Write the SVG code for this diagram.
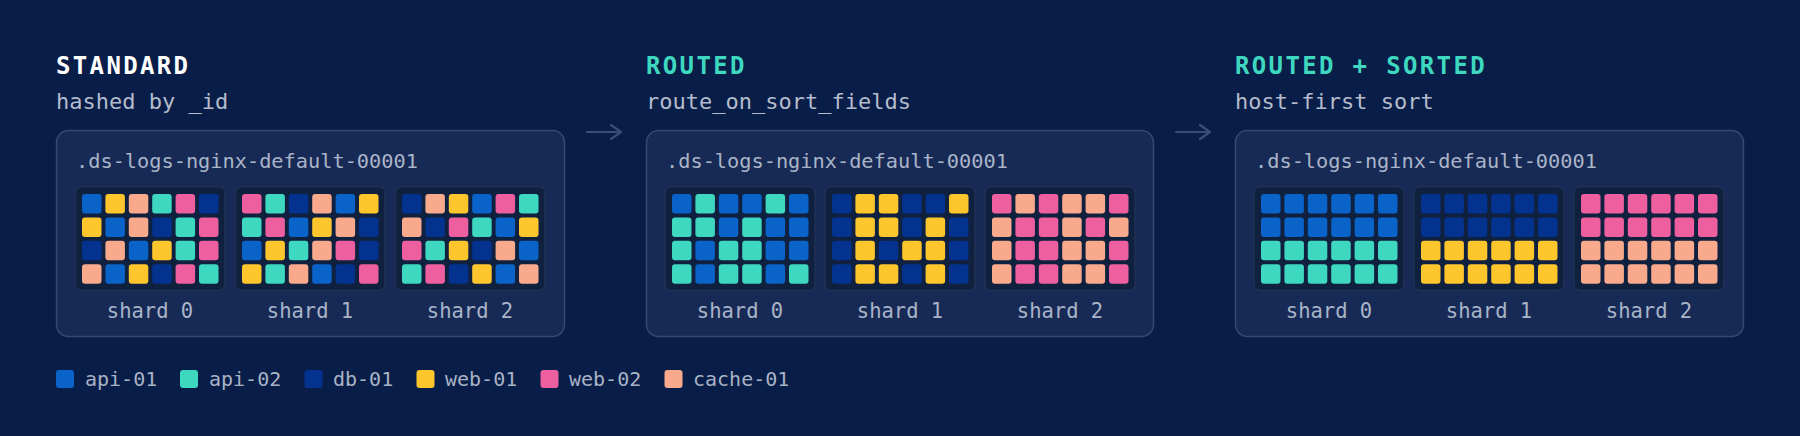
<svg xmlns="http://www.w3.org/2000/svg" width="1800" height="436" viewBox="0 0 1800 436">
<style>
.bg{fill:#081d48}
.panel{fill:#172a55;stroke:#37496f;stroke-width:1.5}
.box{fill:#10203f;stroke:#1f3156;stroke-width:1.5}
.t{font-family:"DejaVu Sans Mono","Liberation Mono",monospace}
.title{font-size:24px;font-weight:bold;letter-spacing:2.35px}
.white{fill:#ffffff}
.teal{fill:#3ed8c0}
.sub{font-size:22px;fill:#b4bccc}
.idx{font-size:20.3px;fill:#aab4c8}
.lbl{font-size:20.5px;fill:#aab4c8;text-anchor:middle}
.leg{font-size:20px;fill:#a9b3c6}
.B{fill:#0a63c9}.T{fill:#3ed8c0}.D{fill:#04338f}.Y{fill:#fec62d}.P{fill:#ee5fa0}.S{fill:#f9aa8c}
.arrow{fill:none;stroke:#3b4d74;stroke-width:2.2;stroke-linecap:round;stroke-linejoin:round}
</style>
<defs>
<marker id="ah" viewBox="0 0 12 16" refX="11" refY="8" markerWidth="12" markerHeight="16" markerUnits="userSpaceOnUse" orient="auto">
<path d="M1,1 L11,8 L1,15" fill="none" stroke="#3b4d74" stroke-width="2.2" stroke-linecap="round" stroke-linejoin="round"/>
</marker>
</defs>
<rect class="bg" x="0" y="0" width="1800" height="436"/>

<g id="connectors">
<line class="arrow" x1="587" y1="132" x2="621" y2="132" marker-end="url(#ah)"/>
<line class="arrow" x1="1176" y1="132" x2="1210" y2="132" marker-end="url(#ah)"/>
</g>

<g id="standard">
<text class="t title white" x="56" y="74">STANDARD</text>
<text class="t sub" x="56" y="109">hashed by _id</text>
<rect class="panel" x="56.5" y="130.5" width="508" height="206" rx="12"/>
<text class="t idx" x="76" y="168">.ds-logs-nginx-default-00001</text>
<g id="std-shard0" transform="translate(75,186.5)">
<rect class="box" x="0" y="0" width="150" height="104" rx="6"/>
<rect class="B" x="7" y="7.5" width="19.5" height="19.5" rx="3"/><rect class="Y" x="30.4" y="7.5" width="19.5" height="19.5" rx="3"/><rect class="S" x="53.8" y="7.5" width="19.5" height="19.5" rx="3"/><rect class="T" x="77.2" y="7.5" width="19.5" height="19.5" rx="3"/><rect class="P" x="100.6" y="7.5" width="19.5" height="19.5" rx="3"/><rect class="D" x="124" y="7.5" width="19.5" height="19.5" rx="3"/>
<rect class="Y" x="7" y="30.9" width="19.5" height="19.5" rx="3"/><rect class="B" x="30.4" y="30.9" width="19.5" height="19.5" rx="3"/><rect class="S" x="53.8" y="30.9" width="19.5" height="19.5" rx="3"/><rect class="D" x="77.2" y="30.9" width="19.5" height="19.5" rx="3"/><rect class="T" x="100.6" y="30.9" width="19.5" height="19.5" rx="3"/><rect class="P" x="124" y="30.9" width="19.5" height="19.5" rx="3"/>
<rect class="D" x="7" y="54.3" width="19.5" height="19.5" rx="3"/><rect class="S" x="30.4" y="54.3" width="19.5" height="19.5" rx="3"/><rect class="B" x="53.8" y="54.3" width="19.5" height="19.5" rx="3"/><rect class="Y" x="77.2" y="54.3" width="19.5" height="19.5" rx="3"/><rect class="T" x="100.6" y="54.3" width="19.5" height="19.5" rx="3"/><rect class="P" x="124" y="54.3" width="19.5" height="19.5" rx="3"/>
<rect class="S" x="7" y="77.7" width="19.5" height="19.5" rx="3"/><rect class="B" x="30.4" y="77.7" width="19.5" height="19.5" rx="3"/><rect class="Y" x="53.8" y="77.7" width="19.5" height="19.5" rx="3"/><rect class="D" x="77.2" y="77.7" width="19.5" height="19.5" rx="3"/><rect class="P" x="100.6" y="77.7" width="19.5" height="19.5" rx="3"/><rect class="T" x="124" y="77.7" width="19.5" height="19.5" rx="3"/>
<text class="t lbl" x="75" y="131.5">shard 0</text>
</g>
<g id="std-shard1" transform="translate(235,186.5)">
<rect class="box" x="0" y="0" width="150" height="104" rx="6"/>
<rect class="P" x="7" y="7.5" width="19.5" height="19.5" rx="3"/><rect class="T" x="30.4" y="7.5" width="19.5" height="19.5" rx="3"/><rect class="D" x="53.8" y="7.5" width="19.5" height="19.5" rx="3"/><rect class="S" x="77.2" y="7.5" width="19.5" height="19.5" rx="3"/><rect class="B" x="100.6" y="7.5" width="19.5" height="19.5" rx="3"/><rect class="Y" x="124" y="7.5" width="19.5" height="19.5" rx="3"/>
<rect class="T" x="7" y="30.9" width="19.5" height="19.5" rx="3"/><rect class="P" x="30.4" y="30.9" width="19.5" height="19.5" rx="3"/><rect class="B" x="53.8" y="30.9" width="19.5" height="19.5" rx="3"/><rect class="Y" x="77.2" y="30.9" width="19.5" height="19.5" rx="3"/><rect class="S" x="100.6" y="30.9" width="19.5" height="19.5" rx="3"/><rect class="D" x="124" y="30.9" width="19.5" height="19.5" rx="3"/>
<rect class="B" x="7" y="54.3" width="19.5" height="19.5" rx="3"/><rect class="Y" x="30.4" y="54.3" width="19.5" height="19.5" rx="3"/><rect class="T" x="53.8" y="54.3" width="19.5" height="19.5" rx="3"/><rect class="S" x="77.2" y="54.3" width="19.5" height="19.5" rx="3"/><rect class="P" x="100.6" y="54.3" width="19.5" height="19.5" rx="3"/><rect class="D" x="124" y="54.3" width="19.5" height="19.5" rx="3"/>
<rect class="Y" x="7" y="77.7" width="19.5" height="19.5" rx="3"/><rect class="T" x="30.4" y="77.7" width="19.5" height="19.5" rx="3"/><rect class="S" x="53.8" y="77.7" width="19.5" height="19.5" rx="3"/><rect class="B" x="77.2" y="77.7" width="19.5" height="19.5" rx="3"/><rect class="D" x="100.6" y="77.7" width="19.5" height="19.5" rx="3"/><rect class="P" x="124" y="77.7" width="19.5" height="19.5" rx="3"/>
<text class="t lbl" x="75" y="131.5">shard 1</text>
</g>
<g id="std-shard2" transform="translate(395,186.5)">
<rect class="box" x="0" y="0" width="150" height="104" rx="6"/>
<rect class="D" x="7" y="7.5" width="19.5" height="19.5" rx="3"/><rect class="S" x="30.4" y="7.5" width="19.5" height="19.5" rx="3"/><rect class="Y" x="53.8" y="7.5" width="19.5" height="19.5" rx="3"/><rect class="B" x="77.2" y="7.5" width="19.5" height="19.5" rx="3"/><rect class="P" x="100.6" y="7.5" width="19.5" height="19.5" rx="3"/><rect class="T" x="124" y="7.5" width="19.5" height="19.5" rx="3"/>
<rect class="S" x="7" y="30.9" width="19.5" height="19.5" rx="3"/><rect class="D" x="30.4" y="30.9" width="19.5" height="19.5" rx="3"/><rect class="P" x="53.8" y="30.9" width="19.5" height="19.5" rx="3"/><rect class="T" x="77.2" y="30.9" width="19.5" height="19.5" rx="3"/><rect class="B" x="100.6" y="30.9" width="19.5" height="19.5" rx="3"/><rect class="Y" x="124" y="30.9" width="19.5" height="19.5" rx="3"/>
<rect class="P" x="7" y="54.3" width="19.5" height="19.5" rx="3"/><rect class="T" x="30.4" y="54.3" width="19.5" height="19.5" rx="3"/><rect class="Y" x="53.8" y="54.3" width="19.5" height="19.5" rx="3"/><rect class="D" x="77.2" y="54.3" width="19.5" height="19.5" rx="3"/><rect class="S" x="100.6" y="54.3" width="19.5" height="19.5" rx="3"/><rect class="B" x="124" y="54.3" width="19.5" height="19.5" rx="3"/>
<rect class="T" x="7" y="77.7" width="19.5" height="19.5" rx="3"/><rect class="P" x="30.4" y="77.7" width="19.5" height="19.5" rx="3"/><rect class="D" x="53.8" y="77.7" width="19.5" height="19.5" rx="3"/><rect class="Y" x="77.2" y="77.7" width="19.5" height="19.5" rx="3"/><rect class="B" x="100.6" y="77.7" width="19.5" height="19.5" rx="3"/><rect class="S" x="124" y="77.7" width="19.5" height="19.5" rx="3"/>
<text class="t lbl" x="75" y="131.5">shard 2</text>
</g>
</g>

<g id="routed">
<text class="t title teal" x="646" y="74">ROUTED</text>
<text class="t sub" x="646" y="109">route_on_sort_fields</text>
<rect class="panel" x="646.5" y="130.5" width="507" height="206" rx="12"/>
<text class="t idx" x="666" y="168">.ds-logs-nginx-default-00001</text>
<g id="routed-shard0" transform="translate(665,186.5)">
<rect class="box" x="0" y="0" width="150" height="104" rx="6"/>
<rect class="B" x="7" y="7.5" width="19.5" height="19.5" rx="3"/><rect class="T" x="30.4" y="7.5" width="19.5" height="19.5" rx="3"/><rect class="B" x="53.8" y="7.5" width="19.5" height="19.5" rx="3"/><rect class="B" x="77.2" y="7.5" width="19.5" height="19.5" rx="3"/><rect class="T" x="100.6" y="7.5" width="19.5" height="19.5" rx="3"/><rect class="B" x="124" y="7.5" width="19.5" height="19.5" rx="3"/>
<rect class="T" x="7" y="30.9" width="19.5" height="19.5" rx="3"/><rect class="T" x="30.4" y="30.9" width="19.5" height="19.5" rx="3"/><rect class="B" x="53.8" y="30.9" width="19.5" height="19.5" rx="3"/><rect class="T" x="77.2" y="30.9" width="19.5" height="19.5" rx="3"/><rect class="B" x="100.6" y="30.9" width="19.5" height="19.5" rx="3"/><rect class="B" x="124" y="30.9" width="19.5" height="19.5" rx="3"/>
<rect class="T" x="7" y="54.3" width="19.5" height="19.5" rx="3"/><rect class="B" x="30.4" y="54.3" width="19.5" height="19.5" rx="3"/><rect class="T" x="53.8" y="54.3" width="19.5" height="19.5" rx="3"/><rect class="T" x="77.2" y="54.3" width="19.5" height="19.5" rx="3"/><rect class="B" x="100.6" y="54.3" width="19.5" height="19.5" rx="3"/><rect class="B" x="124" y="54.3" width="19.5" height="19.5" rx="3"/>
<rect class="T" x="7" y="77.7" width="19.5" height="19.5" rx="3"/><rect class="B" x="30.4" y="77.7" width="19.5" height="19.5" rx="3"/><rect class="T" x="53.8" y="77.7" width="19.5" height="19.5" rx="3"/><rect class="T" x="77.2" y="77.7" width="19.5" height="19.5" rx="3"/><rect class="B" x="100.6" y="77.7" width="19.5" height="19.5" rx="3"/><rect class="T" x="124" y="77.7" width="19.5" height="19.5" rx="3"/>
<text class="t lbl" x="75" y="131.5">shard 0</text>
</g>
<g id="routed-shard1" transform="translate(825,186.5)">
<rect class="box" x="0" y="0" width="150" height="104" rx="6"/>
<rect class="D" x="7" y="7.5" width="19.5" height="19.5" rx="3"/><rect class="Y" x="30.4" y="7.5" width="19.5" height="19.5" rx="3"/><rect class="Y" x="53.8" y="7.5" width="19.5" height="19.5" rx="3"/><rect class="D" x="77.2" y="7.5" width="19.5" height="19.5" rx="3"/><rect class="D" x="100.6" y="7.5" width="19.5" height="19.5" rx="3"/><rect class="Y" x="124" y="7.5" width="19.5" height="19.5" rx="3"/>
<rect class="D" x="7" y="30.9" width="19.5" height="19.5" rx="3"/><rect class="Y" x="30.4" y="30.9" width="19.5" height="19.5" rx="3"/><rect class="Y" x="53.8" y="30.9" width="19.5" height="19.5" rx="3"/><rect class="D" x="77.2" y="30.9" width="19.5" height="19.5" rx="3"/><rect class="Y" x="100.6" y="30.9" width="19.5" height="19.5" rx="3"/><rect class="D" x="124" y="30.9" width="19.5" height="19.5" rx="3"/>
<rect class="D" x="7" y="54.3" width="19.5" height="19.5" rx="3"/><rect class="Y" x="30.4" y="54.3" width="19.5" height="19.5" rx="3"/><rect class="D" x="53.8" y="54.3" width="19.5" height="19.5" rx="3"/><rect class="Y" x="77.2" y="54.3" width="19.5" height="19.5" rx="3"/><rect class="Y" x="100.6" y="54.3" width="19.5" height="19.5" rx="3"/><rect class="D" x="124" y="54.3" width="19.5" height="19.5" rx="3"/>
<rect class="D" x="7" y="77.7" width="19.5" height="19.5" rx="3"/><rect class="Y" x="30.4" y="77.7" width="19.5" height="19.5" rx="3"/><rect class="Y" x="53.8" y="77.7" width="19.5" height="19.5" rx="3"/><rect class="D" x="77.2" y="77.7" width="19.5" height="19.5" rx="3"/><rect class="Y" x="100.6" y="77.7" width="19.5" height="19.5" rx="3"/><rect class="D" x="124" y="77.7" width="19.5" height="19.5" rx="3"/>
<text class="t lbl" x="75" y="131.5">shard 1</text>
</g>
<g id="routed-shard2" transform="translate(985,186.5)">
<rect class="box" x="0" y="0" width="150" height="104" rx="6"/>
<rect class="P" x="7" y="7.5" width="19.5" height="19.5" rx="3"/><rect class="S" x="30.4" y="7.5" width="19.5" height="19.5" rx="3"/><rect class="P" x="53.8" y="7.5" width="19.5" height="19.5" rx="3"/><rect class="S" x="77.2" y="7.5" width="19.5" height="19.5" rx="3"/><rect class="S" x="100.6" y="7.5" width="19.5" height="19.5" rx="3"/><rect class="P" x="124" y="7.5" width="19.5" height="19.5" rx="3"/>
<rect class="S" x="7" y="30.9" width="19.5" height="19.5" rx="3"/><rect class="P" x="30.4" y="30.9" width="19.5" height="19.5" rx="3"/><rect class="P" x="53.8" y="30.9" width="19.5" height="19.5" rx="3"/><rect class="S" x="77.2" y="30.9" width="19.5" height="19.5" rx="3"/><rect class="P" x="100.6" y="30.9" width="19.5" height="19.5" rx="3"/><rect class="S" x="124" y="30.9" width="19.5" height="19.5" rx="3"/>
<rect class="S" x="7" y="54.3" width="19.5" height="19.5" rx="3"/><rect class="P" x="30.4" y="54.3" width="19.5" height="19.5" rx="3"/><rect class="P" x="53.8" y="54.3" width="19.5" height="19.5" rx="3"/><rect class="S" x="77.2" y="54.3" width="19.5" height="19.5" rx="3"/><rect class="S" x="100.6" y="54.3" width="19.5" height="19.5" rx="3"/><rect class="P" x="124" y="54.3" width="19.5" height="19.5" rx="3"/>
<rect class="S" x="7" y="77.7" width="19.5" height="19.5" rx="3"/><rect class="P" x="30.4" y="77.7" width="19.5" height="19.5" rx="3"/><rect class="P" x="53.8" y="77.7" width="19.5" height="19.5" rx="3"/><rect class="S" x="77.2" y="77.7" width="19.5" height="19.5" rx="3"/><rect class="S" x="100.6" y="77.7" width="19.5" height="19.5" rx="3"/><rect class="P" x="124" y="77.7" width="19.5" height="19.5" rx="3"/>
<text class="t lbl" x="75" y="131.5">shard 2</text>
</g>
</g>

<g id="routed-sorted">
<text class="t title teal" x="1235" y="74">ROUTED + SORTED</text>
<text class="t sub" x="1235" y="109">host-first sort</text>
<rect class="panel" x="1235.5" y="130.5" width="508" height="206" rx="12"/>
<text class="t idx" x="1255" y="168">.ds-logs-nginx-default-00001</text>
<g id="sorted-shard0" transform="translate(1254,186.5)">
<rect class="box" x="0" y="0" width="150" height="104" rx="6"/>
<rect class="B" x="7" y="7.5" width="19.5" height="19.5" rx="3"/><rect class="B" x="30.4" y="7.5" width="19.5" height="19.5" rx="3"/><rect class="B" x="53.8" y="7.5" width="19.5" height="19.5" rx="3"/><rect class="B" x="77.2" y="7.5" width="19.5" height="19.5" rx="3"/><rect class="B" x="100.6" y="7.5" width="19.5" height="19.5" rx="3"/><rect class="B" x="124" y="7.5" width="19.5" height="19.5" rx="3"/>
<rect class="B" x="7" y="30.9" width="19.5" height="19.5" rx="3"/><rect class="B" x="30.4" y="30.9" width="19.5" height="19.5" rx="3"/><rect class="B" x="53.8" y="30.9" width="19.5" height="19.5" rx="3"/><rect class="B" x="77.2" y="30.9" width="19.5" height="19.5" rx="3"/><rect class="B" x="100.6" y="30.9" width="19.5" height="19.5" rx="3"/><rect class="B" x="124" y="30.9" width="19.5" height="19.5" rx="3"/>
<rect class="T" x="7" y="54.3" width="19.5" height="19.5" rx="3"/><rect class="T" x="30.4" y="54.3" width="19.5" height="19.5" rx="3"/><rect class="T" x="53.8" y="54.3" width="19.5" height="19.5" rx="3"/><rect class="T" x="77.2" y="54.3" width="19.5" height="19.5" rx="3"/><rect class="T" x="100.6" y="54.3" width="19.5" height="19.5" rx="3"/><rect class="T" x="124" y="54.3" width="19.5" height="19.5" rx="3"/>
<rect class="T" x="7" y="77.7" width="19.5" height="19.5" rx="3"/><rect class="T" x="30.4" y="77.7" width="19.5" height="19.5" rx="3"/><rect class="T" x="53.8" y="77.7" width="19.5" height="19.5" rx="3"/><rect class="T" x="77.2" y="77.7" width="19.5" height="19.5" rx="3"/><rect class="T" x="100.6" y="77.7" width="19.5" height="19.5" rx="3"/><rect class="T" x="124" y="77.7" width="19.5" height="19.5" rx="3"/>
<text class="t lbl" x="75" y="131.5">shard 0</text>
</g>
<g id="sorted-shard1" transform="translate(1414,186.5)">
<rect class="box" x="0" y="0" width="150" height="104" rx="6"/>
<rect class="D" x="7" y="7.5" width="19.5" height="19.5" rx="3"/><rect class="D" x="30.4" y="7.5" width="19.5" height="19.5" rx="3"/><rect class="D" x="53.8" y="7.5" width="19.5" height="19.5" rx="3"/><rect class="D" x="77.2" y="7.5" width="19.5" height="19.5" rx="3"/><rect class="D" x="100.6" y="7.5" width="19.5" height="19.5" rx="3"/><rect class="D" x="124" y="7.5" width="19.5" height="19.5" rx="3"/>
<rect class="D" x="7" y="30.9" width="19.5" height="19.5" rx="3"/><rect class="D" x="30.4" y="30.9" width="19.5" height="19.5" rx="3"/><rect class="D" x="53.8" y="30.9" width="19.5" height="19.5" rx="3"/><rect class="D" x="77.2" y="30.9" width="19.5" height="19.5" rx="3"/><rect class="D" x="100.6" y="30.9" width="19.5" height="19.5" rx="3"/><rect class="D" x="124" y="30.9" width="19.5" height="19.5" rx="3"/>
<rect class="Y" x="7" y="54.3" width="19.5" height="19.5" rx="3"/><rect class="Y" x="30.4" y="54.3" width="19.5" height="19.5" rx="3"/><rect class="Y" x="53.8" y="54.3" width="19.5" height="19.5" rx="3"/><rect class="Y" x="77.2" y="54.3" width="19.5" height="19.5" rx="3"/><rect class="Y" x="100.6" y="54.3" width="19.5" height="19.5" rx="3"/><rect class="Y" x="124" y="54.3" width="19.5" height="19.5" rx="3"/>
<rect class="Y" x="7" y="77.7" width="19.5" height="19.5" rx="3"/><rect class="Y" x="30.4" y="77.7" width="19.5" height="19.5" rx="3"/><rect class="Y" x="53.8" y="77.7" width="19.5" height="19.5" rx="3"/><rect class="Y" x="77.2" y="77.7" width="19.5" height="19.5" rx="3"/><rect class="Y" x="100.6" y="77.7" width="19.5" height="19.5" rx="3"/><rect class="Y" x="124" y="77.7" width="19.5" height="19.5" rx="3"/>
<text class="t lbl" x="75" y="131.5">shard 1</text>
</g>
<g id="sorted-shard2" transform="translate(1574,186.5)">
<rect class="box" x="0" y="0" width="150" height="104" rx="6"/>
<rect class="P" x="7" y="7.5" width="19.5" height="19.5" rx="3"/><rect class="P" x="30.4" y="7.5" width="19.5" height="19.5" rx="3"/><rect class="P" x="53.8" y="7.5" width="19.5" height="19.5" rx="3"/><rect class="P" x="77.2" y="7.5" width="19.5" height="19.5" rx="3"/><rect class="P" x="100.6" y="7.5" width="19.5" height="19.5" rx="3"/><rect class="P" x="124" y="7.5" width="19.5" height="19.5" rx="3"/>
<rect class="P" x="7" y="30.9" width="19.5" height="19.5" rx="3"/><rect class="P" x="30.4" y="30.9" width="19.5" height="19.5" rx="3"/><rect class="P" x="53.8" y="30.9" width="19.5" height="19.5" rx="3"/><rect class="P" x="77.2" y="30.9" width="19.5" height="19.5" rx="3"/><rect class="P" x="100.6" y="30.9" width="19.5" height="19.5" rx="3"/><rect class="P" x="124" y="30.9" width="19.5" height="19.5" rx="3"/>
<rect class="S" x="7" y="54.3" width="19.5" height="19.5" rx="3"/><rect class="S" x="30.4" y="54.3" width="19.5" height="19.5" rx="3"/><rect class="S" x="53.8" y="54.3" width="19.5" height="19.5" rx="3"/><rect class="S" x="77.2" y="54.3" width="19.5" height="19.5" rx="3"/><rect class="S" x="100.6" y="54.3" width="19.5" height="19.5" rx="3"/><rect class="S" x="124" y="54.3" width="19.5" height="19.5" rx="3"/>
<rect class="S" x="7" y="77.7" width="19.5" height="19.5" rx="3"/><rect class="S" x="30.4" y="77.7" width="19.5" height="19.5" rx="3"/><rect class="S" x="53.8" y="77.7" width="19.5" height="19.5" rx="3"/><rect class="S" x="77.2" y="77.7" width="19.5" height="19.5" rx="3"/><rect class="S" x="100.6" y="77.7" width="19.5" height="19.5" rx="3"/><rect class="S" x="124" y="77.7" width="19.5" height="19.5" rx="3"/>
<text class="t lbl" x="75" y="131.5">shard 2</text>
</g>
</g>

<g id="legend">
<rect class="B" x="56" y="370" width="18" height="18" rx="3"/><text class="t leg" x="85" y="386">api-01</text>
<rect class="T" x="180" y="370" width="18" height="18" rx="3"/><text class="t leg" x="209" y="386">api-02</text>
<rect class="D" x="304.5" y="370" width="18" height="18" rx="3"/><text class="t leg" x="333" y="386">db-01</text>
<rect class="Y" x="416.5" y="370" width="18" height="18" rx="3"/><text class="t leg" x="445" y="386">web-01</text>
<rect class="P" x="540.5" y="370" width="18" height="18" rx="3"/><text class="t leg" x="569" y="386">web-02</text>
<rect class="S" x="664.5" y="370" width="18" height="18" rx="3"/><text class="t leg" x="693" y="386">cache-01</text>
</g>
</svg>
